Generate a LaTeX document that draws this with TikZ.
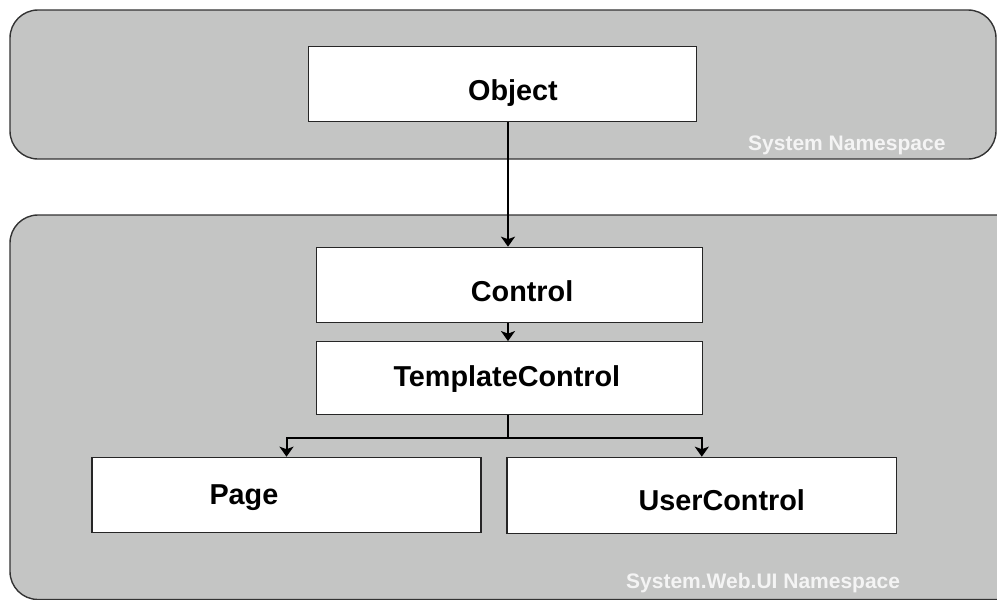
\documentclass[tikz,border=0pt]{standalone}
\usepackage{fontspec}
\setmainfont{Liberation Sans}
\usetikzlibrary{arrows.meta}
\definecolor{nsgray}{HTML}{C4C5C4}
\definecolor{nsborder}{HTML}{333333}
\definecolor{nstext}{HTML}{F4F4F4}
\tikzset{
  container/.style={draw=nsborder, fill=nsgray, line width=1.4pt, rounded corners=28pt},
  classbox/.style={draw=black!85, fill=white, line width=1.2pt, rectangle, inner sep=0pt},
  classtext/.style={anchor=base west, inner sep=0pt, font=\fontsize{28.8}{30}\selectfont\bfseries, text=black},
  nslabel/.style={anchor=base west, inner sep=0pt, font=\fontsize{21}{23}\selectfont\bfseries, text=nstext},
  conn/.style={draw=black, line width=2pt, -{Stealth[width=14pt,length=10pt,inset=2.5pt]}},
  connplain/.style={draw=black, line width=2pt}
}
\begin{document}
\begin{tikzpicture}[x=1pt,y=-1pt]
\useasboundingbox (0,0) rectangle (997,600);
\clip (0,0) rectangle (997,600);
% containers
\path[container] (10,10) rectangle (996,159);
\path[container] (10,215) rectangle (1040,599.5);
% boxes
\node[classbox, minimum width=388pt, minimum height=75pt] (object) at (502.5,84.2) {};
\node[classbox, minimum width=386pt, minimum height=75.4pt] (control) at (509.7,285) {};
\node[classbox, minimum width=386pt, minimum height=72.6pt] (template) at (509.7,378) {};
\node[classbox, minimum width=389pt, minimum height=75.4pt] (page) at (286.5,495) {};
\node[classbox, minimum width=389.7pt, minimum height=76pt] (user) at (701.8,495.3) {};
% texts
\node[classtext] (objectT) at (468,100) {Object};
\node[classtext] (controlT) at (470.7,301.3) {Control};
\node[classtext] (templateT) at (393.3,386.7) {TemplateControl};
\node[classtext] (pageT) at (209.3,504) {Page};
\node[classtext] (userT) at (638.3,510.7) {UserControl};
\node[nslabel] (sysns) at (748,150) {System Namespace};
\node[nslabel] (webns) at (626,588) {System.Web.UI Namespace};
% connectors
\coordinate (j) at (508,438);
\draw[conn] (object.south -| j) -- (control.north -| j);
\draw[conn] (control.south -| j) -- (template.north -| j);
\draw[connplain] (template.south -| j) -- (j);
\draw[conn] (j) -| (page.north);
\draw[conn] (j) -| (user.north);
\end{tikzpicture}
\end{document}
